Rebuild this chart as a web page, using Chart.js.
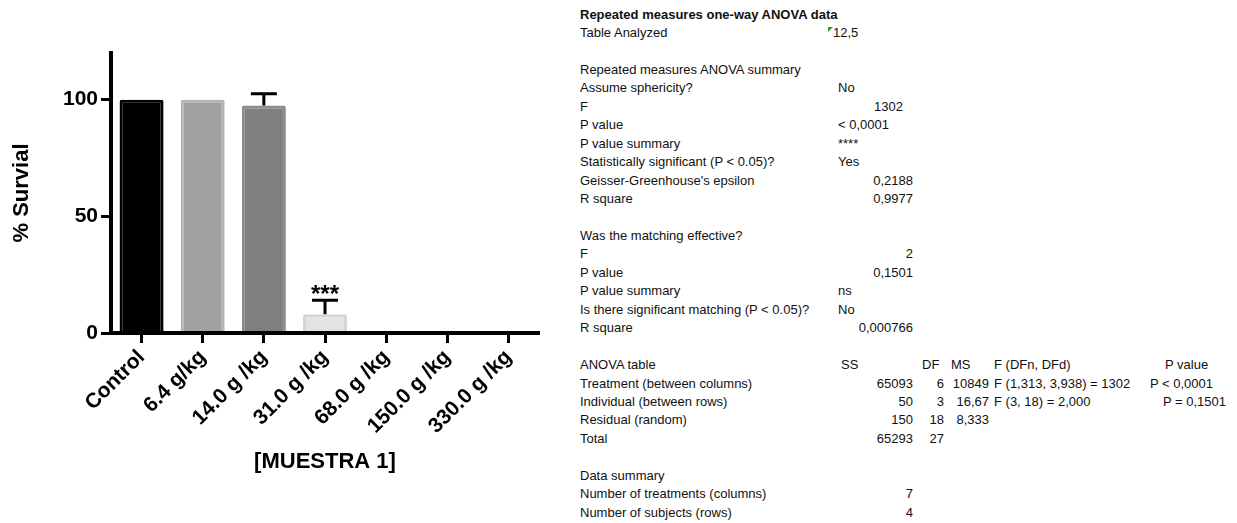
<!DOCTYPE html>
<html>
<head>
<meta charset="utf-8">
<script src="https://cdn.jsdelivr.net/npm/chart.js@4/dist/chart.umd.min.js"></script>
<style>
  html, body { margin: 0; padding: 0; background: #fff; }
  body { width: 1237px; height: 523px; position: relative; overflow: hidden;
         font-family: "Liberation Sans", Arial, sans-serif; }
  #chartBox { position: absolute; left: 0; top: 0; width: 560px; height: 523px; }
  #results { position: absolute; left: 0; top: 0; font-size: 13px; color: #111; }
  .cell { position: absolute; white-space: nowrap; line-height: 18px; }
  .mark { position: absolute; width: 0; height: 0;
          border-top: 5px solid #2e9b3a; border-right: 5px solid transparent; }
</style>
</head>
<body>
<div id="chartBox"><canvas id="survival" width="560" height="523"></canvas></div>
<div id="results"></div>
<script>
// ---- chart data ----
const categories = ['Control', '6.4 g/kg', '14.0 g /kg', '31.0 g /kg', '68.0 g /kg', '150.0 g /kg', '330.0 g /kg'];
const survival   = [100, 100, 97.5, 8, 0, 0, 0];
const errorUp    = [0, 0, 5, 6, 0, 0, 0];
const stars      = ['', '', '', '***', '', '', ''];
const yTicks     = [0, 50, 100];

// ---- ANOVA results text ----
const tableTitle = 'Repeated measures one-way ANOVA data';
const labels = [
  'Table Analyzed', '',
  'Repeated measures ANOVA summary', 'Assume sphericity?', 'F', 'P value', 'P value summary',
  'Statistically significant (P < 0.05)?', "Geisser-Greenhouse's epsilon", 'R square', '',
  'Was the matching effective?', 'F', 'P value', 'P value summary',
  'Is there significant matching (P < 0.05)?', 'R square', '',
  'ANOVA table', 'Treatment (between columns)', 'Individual (between rows)', 'Residual (random)', 'Total', '',
  'Data summary', 'Number of treatments (columns)', 'Number of subjects (rows)'
];
const values = [
  '12,5', '',
  '', 'No', '1302', '< 0,0001', '****',
  'Yes', '0,2188', '0,9977', '',
  '', '2', '0,1501', 'ns',
  'No', '0,000766', '',
  '', '', '', '', '', '',
  '', '7', '4'
];
const anovaHeader = ['SS', 'DF', 'MS', 'F (DFn, DFd)', 'P value'];
const anovaSS = ['65093', '50', '150', '65293'];
const anovaDF = ['6', '3', '18', '27'];
const anovaMS = ['10849', '16,67', '8,333', ''];
const anovaF  = ['F (1,313, 3,938) = 1302', 'F (3, 18) = 2,000', '', ''];
const anovaP  = ['P < 0,0001', 'P = 0,1501', '', ''];

// ---- styling ----
const barFill = ['#000000', '#a1a1a4', '#7f7f7f', '#e3e3e3', '#ffffff', '#ffffff', '#ffffff'];
const barEdge = ['#000000', '#b4b4b6', '#8c8c8c', '#d6d6d6', '#ffffff', '#ffffff', '#ffffff'];
const FONT = '"Liberation Sans", Arial, sans-serif';

// SEM bars (upper half only) plus significance stars
const errorBars = {
  id: 'errorBars',
  afterDatasetsDraw(chart) {
    const { ctx } = chart;
    const y = chart.scales.y;
    const meta = chart.getDatasetMeta(0);
    ctx.save();
    ctx.strokeStyle = '#000';
    ctx.fillStyle = '#000';
    ctx.lineWidth = 3;
    meta.data.forEach((bar, i) => {
      if (!errorUp[i]) return;
      const top = y.getPixelForValue(survival[i] + errorUp[i]);
      ctx.beginPath();
      ctx.moveTo(bar.x, bar.y);
      ctx.lineTo(bar.x, top);
      ctx.moveTo(bar.x - 13, top);
      ctx.lineTo(bar.x + 13, top);
      ctx.stroke();
      if (stars[i]) {
        ctx.font = 'bold 24px ' + FONT;
        ctx.textAlign = 'center';
        ctx.textBaseline = 'alphabetic';
        ctx.fillText(stars[i], bar.x, top + 2);
      }
    });
    ctx.restore();
  }
};

new Chart(document.getElementById('survival'), {
  type: 'bar',
  data: {
    labels: categories,
    datasets: [{
      data: survival,
      backgroundColor: barFill,
      borderColor: barEdge,
      borderWidth: 3,
      borderRadius: 2,
      categoryPercentage: 1,
      barPercentage: 0.72
    }]
  },
  options: {
    responsive: false,
    animation: false,
    layout: { padding: { top: 53, right: 21, left: 0, bottom: 40 } },
    plugins: { legend: { display: false }, tooltip: { enabled: false } },
    scales: {
      x: {
        afterFit(s) { s.height = 150; },
        grid: { offset: false, drawOnChartArea: false, tickLength: 10, tickWidth: 3, tickColor: '#000' },
        border: { display: true, color: '#000', width: 4, z: 1 },
        ticks: { color: '#000', font: { family: FONT, size: 21, weight: 'bold' },
                 minRotation: 45, maxRotation: 45, padding: 2, autoSkip: false },
        title: { display: true, text: '[MUESTRA 1]', color: '#000',
                 font: { family: FONT, size: 22, weight: 'bold' }, padding: { top: 0, bottom: 8 } }
      },
      y: {
        min: 0, max: 120,
        afterFit(s) { s.width = 111; },
        afterBuildTicks(s) { s.ticks = yTicks.map(v => ({ value: v })); },
        grid: { drawOnChartArea: false, tickLength: 10, tickWidth: 3, tickColor: '#000' },
        border: { display: true, color: '#000', width: 4, z: 1 },
        ticks: { color: '#000', font: { family: FONT, size: 21, weight: 'bold' }, padding: 3 },
        title: { display: true, text: '% Survial', color: '#000',
                 font: { family: FONT, size: 22, weight: 'bold' }, padding: { top: 9, bottom: 0 } }
      }
    }
  },
  plugins: [errorBars]
});

// ---- results panel ----
const box = document.getElementById('results');
const ROW0 = 14.5, ROWH = 18.45, LABEL_X = 580, VAL_X = 838, NUM_R = 913;
function put(text, row, x, align, extra) {
  if (!text) return;
  const d = document.createElement('div');
  d.className = 'cell';
  d.textContent = text;
  d.style.top = (ROW0 + row * ROWH - 9) + 'px';
  if (align === 'right') { d.style.left = (x - 300) + 'px'; d.style.width = '300px'; d.style.textAlign = 'right'; }
  else d.style.left = x + 'px';
  if (extra) Object.assign(d.style, extra);
  box.appendChild(d);
}
put(tableTitle, 0, LABEL_X, 'left', { fontWeight: 'bold', fontSize: '13px' });
labels.forEach((t, i) => put(t, i + 1, LABEL_X, 'left'));
values.forEach((v, i) => {
  const row = i + 1;
  if (/^[\d,]+$/.test(v) && i > 0) put(v, row, v === '1302' ? 903 : NUM_R, 'right');
  else put(v, row, i === 0 ? 833 : VAL_X, 'left');
});
const mk = document.createElement('div');
mk.className = 'mark';
mk.style.left = '828px';
mk.style.top = (ROW0 + ROWH - 6) + 'px';
box.appendChild(mk);

const aRow = 19;
const headX = [841, 922, 951, 994, 1165];
anovaHeader.forEach((h, j) => put(h, aRow, headX[j], 'left'));
anovaSS.forEach((v, k) => put(v, aRow + 1 + k, NUM_R, 'right'));
anovaDF.forEach((v, k) => put(v, aRow + 1 + k, 944, 'right'));
anovaMS.forEach((v, k) => put(v, aRow + 1 + k, 989, 'right'));
anovaF.forEach((v, k) => put(v, aRow + 1 + k, 994, 'left'));
anovaP.forEach((v, k) => put(v, aRow + 1 + k, k === 0 ? 1150 : 1163, 'left'));
</script>
</body>
</html>
